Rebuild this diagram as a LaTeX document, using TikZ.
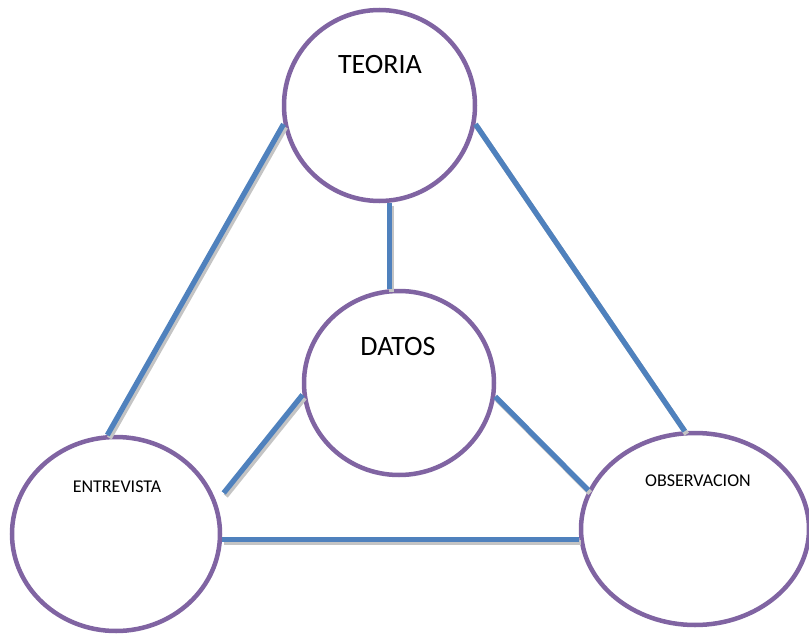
\documentclass[tikz,border=0pt]{standalone}
\usepackage{fontspec}
\setmainfont{Carlito}
\usetikzlibrary{shapes.geometric}
\definecolor{ringpurple}{HTML}{8064A2}
\definecolor{linkblue}{HTML}{4F81BD}
\definecolor{shade}{HTML}{C4C4C4}
\tikzset{
  ring/.style={ellipse, draw=ringpurple, line width=4.5pt, fill=white, inner sep=0pt},
  link/.style={draw=linkblue, line width=5.3pt,
    preaction={draw=shade, line width=5.3pt, transform canvas={xshift=2pt, yshift=-3pt}}},
  bigtxt/.style={inner sep=0pt, font=\fontsize{28}{33}\selectfont},
  smalltxt/.style={inner sep=0pt, font=\fontsize{18}{21}\selectfont},
}
\begin{document}
\begin{tikzpicture}[x=1pt, y=-1pt]
  \useasboundingbox (0,0) rectangle (809,634);

  % the four circles
  \node[ring, minimum width=191pt, minimum height=191pt] (teoria) at (379.5,105.5) {};
  \node[ring, minimum width=190pt, minimum height=184pt] (datos) at (399,383) {};
  \node[ring, minimum width=208pt, minimum height=194pt] (entrevista) at (116,534) {};
  \node[ring, minimum width=228pt, minimum height=192pt] (observacion) at (695,529) {};

  % labels inside the circles
  \node[bigtxt] (teoriaT) at (380,65) {TEORIA};
  \node[bigtxt] (datosT) at (398,347) {DATOS};
  \node[smalltxt] (entrevistaT) at (117,487) {ENTREVISTA};
  \node[smalltxt] (observacionT) at (698,481) {OBSERVACION};

  % connectors
  \draw[link] (teoria.-84) -- (teoria.-84 |- datos.north);
  \draw[link] (teoria.191) -- (entrevista.95);
  \draw[link] (teoria.349) -- (observacion.96);
  \draw[link] (datos.187) -- ([xshift=11pt]entrevista.23.6);
  \draw[link] (datos.-8) -- (observacion.160.6);
  \draw[link] (entrevista.-3) -- (entrevista.-3 -| observacion.west);
\end{tikzpicture}
\end{document}
